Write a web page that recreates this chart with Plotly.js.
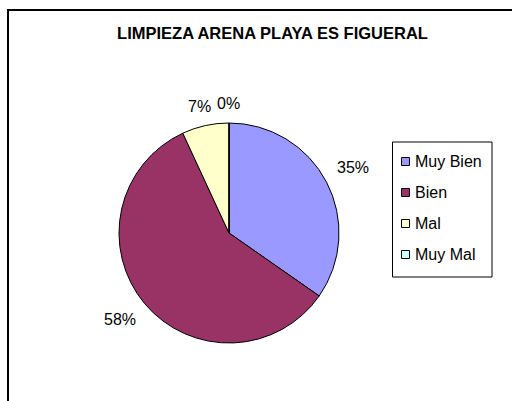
<!DOCTYPE html>
<html><head><meta charset="utf-8">
<script src="https://cdn.plot.ly/plotly-3.0.1.min.js"></script>
<style>html,body{margin:0;padding:0;background:#fff}</style>
</head><body><div id="chart" style="width:512px;height:401px"></div>
<script>
const chartTitle = 'LIMPIEZA ARENA PLAYA ES FIGUERAL';
const categories = ['Muy Bien', 'Bien', 'Mal', 'Muy Mal'];
const percents = [34.7, 58.4, 6.9, 0];
const colors = ['#9999FF', '#993366', '#FFFFCC', '#CCFFFF'];

const W = 512, H = 401;
const px = x => x / W, py = y => 1 - y / H;
const cx = 229, cy = 233, rad = 110;
const FONT = 'Liberation Sans, Arial, sans-serif';

const total = percents.reduce((a, b) => a + b, 0);
const annotations = [];
const shapes = [];

// percentage labels around the pie, from slice angles
let cum = 0;
percents.forEach((v, i) => {
  const mid = (cum + v / 2) / total * 2 * Math.PI; cum += v;
  const s = Math.sin(mid), c = Math.cos(mid);
  const R = 119;
  const txt = Math.round(v / total * 100) + '%';
  const estW = txt.length * 8.5;
  const xa = s > 0.3 ? 'left' : (s < -0.3 ? 'right' : 'center');
  annotations.push({
    xref: 'paper', yref: 'paper', x: px(cx + s * R), y: py(cy - c * R),
    text: txt, showarrow: false,
    xanchor: xa,
    yanchor: c > 0.3 ? 'bottom' : (c < -0.3 ? 'top' : 'middle'),
    xshift: xa === 'center' ? s * estW : 0,
    font: {family: FONT, size: 16, color: '#000'}
  });
});

// outer chart border
shapes.push({type: 'rect', xref: 'paper', yref: 'paper', x0: px(8), x1: px(540), y0: py(10), y1: py(440),
  line: {color: '#000', width: 2}, fillcolor: 'rgba(0,0,0,0)'});

// legend
shapes.push({type: 'rect', xref: 'paper', yref: 'paper', x0: px(392.5), x1: px(492), y0: py(142), y1: py(277),
  line: {color: '#000', width: 1}, fillcolor: '#fff'});
categories.forEach((name, i) => {
  const yc = 161.5 + i * 31;
  shapes.push({type: 'rect', xref: 'paper', yref: 'paper', x0: px(401.5), x1: px(409.5), y0: py(yc - 4), y1: py(yc + 4),
    line: {color: '#000', width: 1}, fillcolor: colors[i]});
  annotations.push({xref: 'paper', yref: 'paper', x: px(412.5), y: py(yc), text: name, showarrow: false,
    xanchor: 'left', yanchor: 'middle', font: {family: FONT, size: 16, color: '#000'}});
});

const trace = {
  type: 'pie', values: percents, labels: categories, sort: false, direction: 'clockwise', rotation: 0,
  marker: {colors: colors, line: {color: '#000', width: 1}},
  textinfo: 'none', hoverinfo: 'none',
  domain: {x: [px(cx - rad), px(cx + rad)], y: [py(cy + rad), py(cy - rad)]}
};

const layout = {
  width: W, height: H, autosize: false,
  margin: {l: 0, r: 0, t: 0, b: 0, pad: 0},
  paper_bgcolor: '#fff', plot_bgcolor: '#fff',
  showlegend: false,
  title: {text: chartTitle, x: px(272.5), xanchor: 'center', xref: 'paper', y: py(33.5), yanchor: 'middle', yref: 'paper',
    font: {family: FONT, size: 16.5, weight: 700, color: '#000'}},
  annotations: annotations,
  shapes: shapes
};

Plotly.newPlot('chart', [trace], layout, {staticPlot: true, displayModeBar: false});
</script></body></html>
